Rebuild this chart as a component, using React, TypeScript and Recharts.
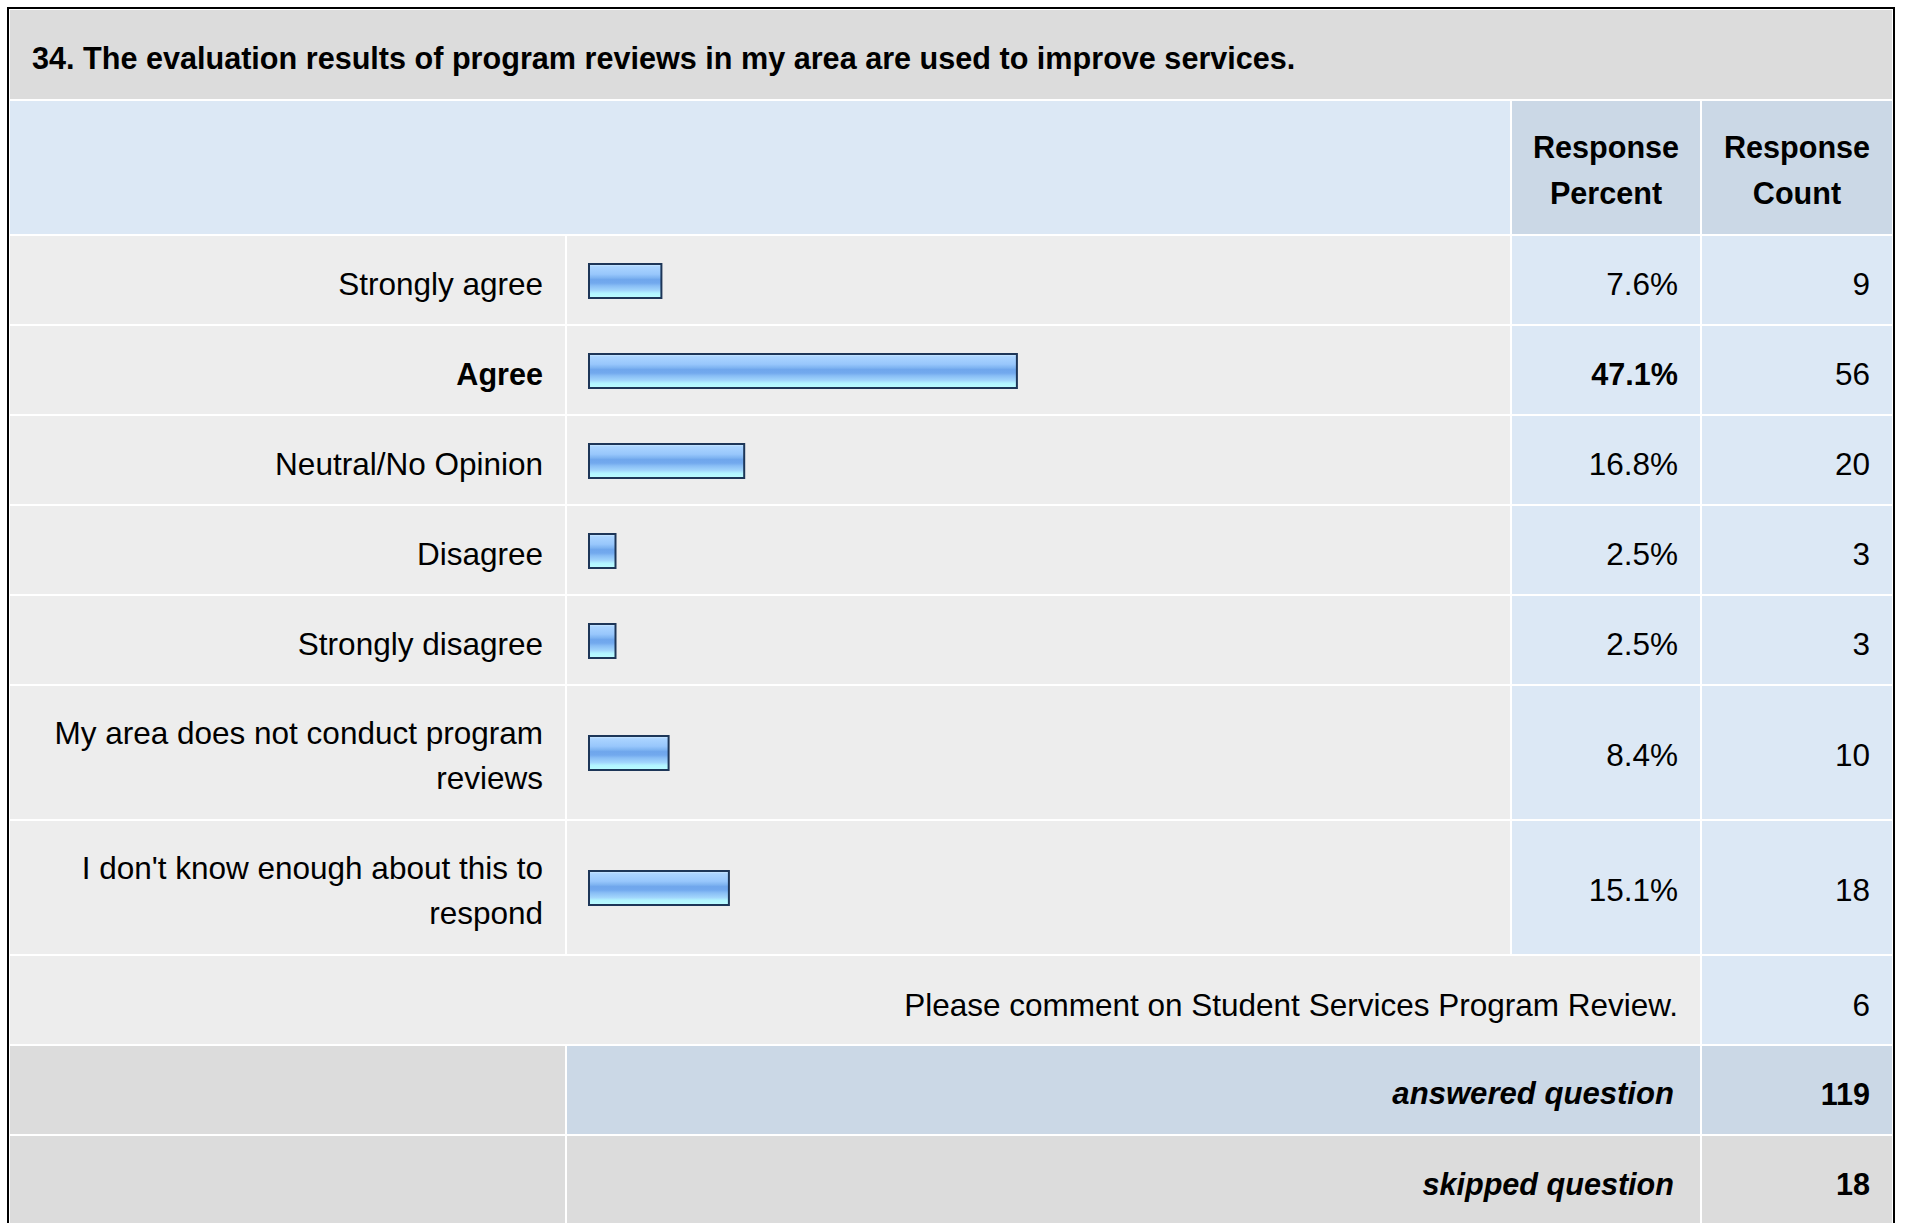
import React from "react";
import { BarChart, Bar, XAxis, YAxis } from "recharts";

const questionTitle =
  "34. The evaluation results of program reviews in my area are used to improve services.";
const answerOptions = [
  "Strongly agree",
  "Agree",
  "Neutral/No Opinion",
  "Disagree",
  "Strongly disagree",
  "My area does not conduct program reviews",
  "I don't know enough about this to respond",
];
const responsePercents = [7.6, 47.1, 16.8, 2.5, 2.5, 8.4, 15.1];
const responseCounts = [9, 56, 20, 3, 3, 10, 18];
const commentPrompt = "Please comment on Student Services Program Review.";
const commentCount = 6;
const answeredCount = 119;
const skippedCount = 18;

const FONT = '"Liberation Sans", Arial, Helvetica, sans-serif';
const LIGHT_BLUE = "#dce8f5";
const HEAD_BLUE = "#cbd8e6";
const ROW_GRAY = "#ededed";
const DARK_GRAY = "#dcdcdc";
const REGULAR_SIZE = 31.5; // regular text runs a bit wider than the bold in the original
const BOLD_SIZE = 30.6;

// two-line answers get the taller row
const rowHeight = (label: string) => (label.length > 30 ? 133 : 88);
const topIdx = responsePercents.indexOf(Math.max(...responsePercents));

// glossy bar like the old survey reports, border drawn outside the value width
function GlossyBar(props: any) {
  const { x, y, width, height, index } = props;
  const id = `gloss-${index}`;
  return (
    <g>
      <defs>
        <linearGradient id={id} x1="0" y1="0" x2="0" y2="1">
          <stop offset="0" stopColor="#d6eeff" />
          <stop offset="0.08" stopColor="#abd4ff" />
          <stop offset="0.3" stopColor="#98c7fc" />
          <stop offset="0.4" stopColor="#80b5f2" />
          <stop offset="0.46" stopColor="#6fa6ec" />
          <stop offset="0.56" stopColor="#72a9ee" />
          <stop offset="0.64" stopColor="#88bdf5" />
          <stop offset="0.78" stopColor="#a2d6fc" />
          <stop offset="0.86" stopColor="#b2f4ff" />
          <stop offset="1" stopColor="#bafdff" />
        </linearGradient>
      </defs>
      <rect
        x={x + 1}
        y={y + 1}
        width={Math.max(width, 0) + 4}
        height={height - 2}
        fill={`url(#${id})`}
        stroke="#1d3658"
        strokeWidth={2}
      />
    </g>
  );
}

function RowBar({ label, pct, index }: { label: string; pct: number; index: number }) {
  const h = rowHeight(label);
  const data = [{ name: label, pct }];
  return (
    <BarChart
      width={943}
      height={h}
      data={data}
      layout="vertical"
      margin={{ top: h === 88 ? 2 : 0, right: 22, bottom: 0, left: 21 }}
    >
      <XAxis type="number" domain={[0, 100]} hide />
      <YAxis type="category" dataKey="name" hide />
      <Bar
        dataKey="pct"
        barSize={36}
        isAnimationActive={false}
        shape={(p: any) => <GlossyBar {...p} index={index} />}
      />
    </BarChart>
  );
}

const cell = (bg: string, extra: React.CSSProperties = {}): React.CSSProperties => ({
  background: bg,
  display: "flex",
  alignItems: "center",
  justifyContent: "flex-end",
  textAlign: "right",
  paddingRight: 22,
  boxSizing: "border-box",
  ...extra,
});

const boldText: React.CSSProperties = { fontWeight: "bold", fontSize: BOLD_SIZE };

export default function App() {
  const rows = answerOptions.map((a) => `${rowHeight(a)}px`).join(" ");
  return (
    <div
      style={{
        position: "absolute",
        left: 7,
        top: 7,
        border: "2px solid #000",
        padding: 1,
        background: "#fff",
        display: "grid",
        gridTemplateColumns: "555px 943px 188px 190px",
        gridTemplateRows: `89px 133px ${rows} 88px 88px 88px`,
        gap: 2,
        fontFamily: FONT,
        fontSize: REGULAR_SIZE,
        color: "#000",
      }}
    >
      <div
        style={cell(DARK_GRAY, {
          gridColumn: "1 / 5",
          justifyContent: "flex-start",
          paddingLeft: 22,
          paddingTop: 8,
          ...boldText,
        })}
      >
        {questionTitle}
      </div>

      <div style={cell(LIGHT_BLUE, { gridColumn: "1 / 3" })} />
      <div style={cell(HEAD_BLUE, { justifyContent: "center", textAlign: "center", paddingRight: 0, paddingTop: 5, lineHeight: "46px", ...boldText })}>
        Response<br />Percent
      </div>
      <div style={cell(HEAD_BLUE, { justifyContent: "center", textAlign: "center", paddingRight: 0, paddingTop: 5, lineHeight: "46px", ...boldText })}>
        Response<br />Count
      </div>

      {answerOptions.map((label, i) => {
        const emph = i === topIdx ? boldText : {};
        const pad = rowHeight(label) === 88 ? 8 : 6;
        return (
          <React.Fragment key={label}>
            <div style={cell(ROW_GRAY, { paddingLeft: 20, paddingTop: pad, lineHeight: "45px", ...emph })}>
              {label}
            </div>
            <div style={{ background: ROW_GRAY }}>
              <RowBar label={label} pct={responsePercents[i]} index={i} />
            </div>
            <div style={cell(LIGHT_BLUE, { paddingTop: pad, ...emph })}>
              {responsePercents[i].toFixed(1)}%
            </div>
            <div style={cell(LIGHT_BLUE, { paddingTop: pad })}>{responseCounts[i]}</div>
          </React.Fragment>
        );
      })}

      <div style={cell(ROW_GRAY, { gridColumn: "1 / 4", paddingTop: 10 })}>{commentPrompt}</div>
      <div style={cell(LIGHT_BLUE, { paddingTop: 10 })}>{commentCount}</div>

      <div style={cell(DARK_GRAY)} />
      <div style={cell(HEAD_BLUE, { gridColumn: "2 / 4", paddingTop: 8, paddingRight: 26, fontStyle: "italic", ...boldText, fontSize: 31.1 })}>
        answered question
      </div>
      <div style={cell(HEAD_BLUE, { paddingTop: 8, ...boldText })}>{answeredCount}</div>

      <div style={cell(DARK_GRAY)} />
      <div style={cell(DARK_GRAY, { gridColumn: "2 / 4", paddingTop: 8, paddingRight: 26, fontStyle: "italic", ...boldText })}>
        skipped question
      </div>
      <div style={cell(DARK_GRAY, { paddingTop: 8, ...boldText })}>{skippedCount}</div>
    </div>
  );
}
